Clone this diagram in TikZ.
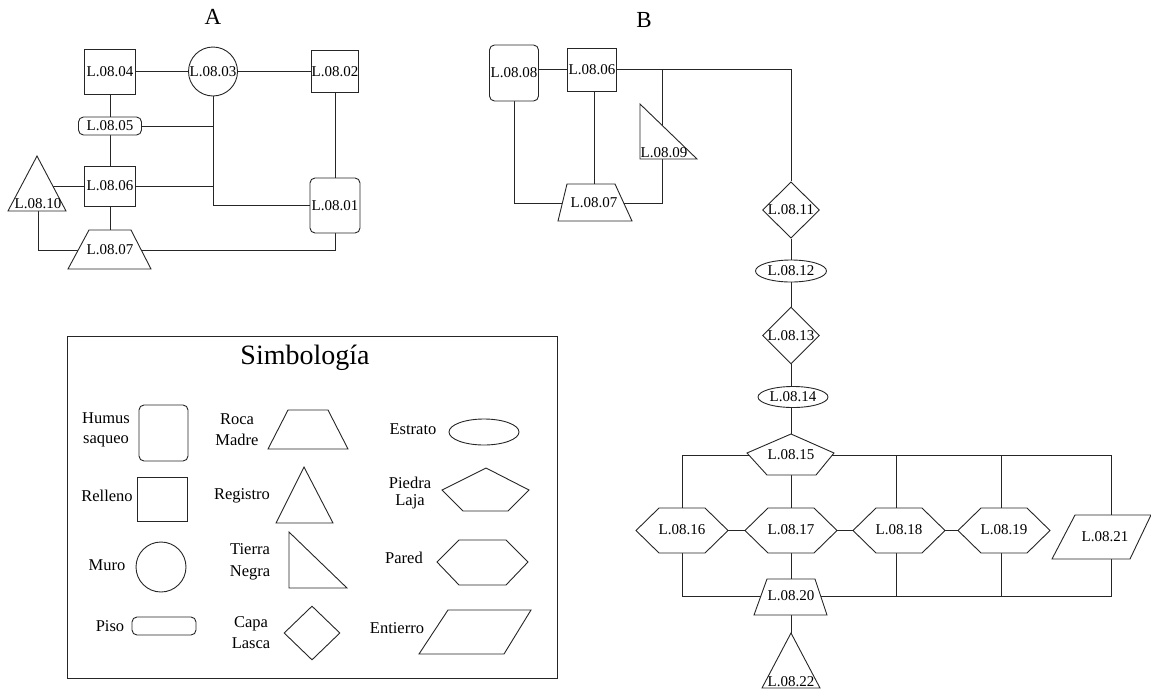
\documentclass[tikz,border=0pt]{standalone}
\usepackage{fontspec}
\setmainfont{Liberation Serif}
\usetikzlibrary{shapes.geometric}
\pgfdeclarelayer{bg}
\pgfdeclarelayer{mid}
\pgfsetlayers{bg,mid,main}
\begin{document}
\begin{tikzpicture}[x=1pt,y=-1pt,
  ln/.style={line width=0.9pt, draw=black!85},
  shp/.style={ln, fill=white},
  lbl/.style={font=\fontsize{15}{15}\selectfont, inner sep=0pt},
  rectn/.style={shp, lbl, rectangle},
  rnd/.style={shp, lbl, rectangle, rounded corners=5pt},
  circ/.style={shp, lbl, circle},
  ell/.style={shp, lbl, ellipse},
  dia/.style={shp, lbl, diamond},
  legt/.style={font=\fontsize{16.5}{20}\selectfont, align=center, inner sep=0pt},
  ttl/.style={font=\fontsize{23}{23}\selectfont, inner sep=0pt},
  hexa/.pic={\draw[shp] (-46,0) -- (-23,-22.5) -- (23,-22.5) -- (46,0) -- (23,22.5) -- (-23,22.5) -- cycle;}]
\useasboundingbox (0,0) rectangle (1151,691);

% ---------- titles
\node[ttl] (tA) at (213,17) {A};
\node[ttl] (tB) at (644,20) {B};

% ---------- diagram A nodes
\node[rectn, minimum width=51pt, minimum height=45pt] (a04) at (110,71.5) {L.08.04};
\node[circ, minimum size=49pt] (a03) at (213,71.5) {L.08.03};
\node[rectn, minimum width=47pt, minimum height=42pt] (a02) at (335,71.5) {L.08.02};
\node[rnd, minimum width=63pt, minimum height=18pt] (a05) at (110,126) {L.08.05};
\node[rectn, minimum width=51pt, minimum height=40pt] (a06) at (110,186) {L.08.06};
\node[rnd, minimum width=50pt, minimum height=55pt] (a01) at (335,205.5) {L.08.01};
\node[lbl] (a10) at (38,204) {L.08.10};
\node[lbl] (a07) at (110,250) {L.08.07};

\begin{pgfonlayer}{mid}
\draw[shp] (37,156) -- (66,211) -- (8,211) -- cycle;
\draw[shp] (89,230) -- (131,230) -- (151,269) -- (68,269) -- cycle;
\end{pgfonlayer}

\coordinate (j5) at (a05 -| a03);
\coordinate (j6) at (a06 -| a03);
\begin{pgfonlayer}{bg}
\draw[ln] (a04) -- (a03);
\draw[ln] (a03) -- (a02);
\draw[ln] (a04) -- (a05);
\draw[ln] (a05) -- (a06);
\draw[ln] (a03) |- (a01);
\draw[ln] (a05) -- (j5);
\draw[ln] (a06) -- (j6);
\draw[ln] (a06) -- (a06 -| a10);
\draw[ln] (a06) -- (a07);
\draw[ln] (a10) |- (a07);
\draw[ln] (a07) -| (a01);
\draw[ln] (a02) -- (a01);
\end{pgfonlayer}

% ---------- diagram B nodes
\node[rnd, minimum width=49pt, minimum height=56pt] (b08) at (514,73) {L.08.08};
\node[rectn, minimum width=49pt, minimum height=43pt] (b06) at (592,69.5) {L.08.06};
\node[lbl] (b07) at (594,203) {L.08.07};
\node[lbl] (b09) at (664,153) {L.08.09};
\node[dia, minimum width=57pt, minimum height=54pt] (b11) at (791,210) {L.08.11};
\node[ell, minimum width=71pt, minimum height=22pt] (b12) at (791,271) {L.08.12};
\node[dia, minimum width=55pt, minimum height=55pt] (b13) at (791,335.5) {L.08.13};
\node[ell, minimum width=70pt, minimum height=21pt] (b14) at (793,397) {L.08.14};
\node[lbl] (b15) at (791,455) {L.08.15};
\node[lbl] (b16) at (682,530) {L.08.16};
\node[lbl] (b17) at (791,530) {L.08.17};
\node[lbl] (b18) at (899,530) {L.08.18};
\node[lbl] (b19) at (1004,530) {L.08.19};
\node[lbl] (b21) at (1105,537) {L.08.21};
\node[lbl] (b20) at (791,596) {L.08.20};
\node[lbl] (b22) at (791,682) {L.08.22};

\begin{pgfonlayer}{mid}
\draw[shp] (567,184) -- (615,184) -- (632,221) -- (558,221) -- cycle;
\draw[shp] (640,104) -- (697,159) -- (640,159) -- cycle;
\draw[shp] (791,434) -- (834,453) -- (816,475) -- (767,475) -- (747,453) -- cycle;
\pic at (682,530.5) {hexa};
\pic at (791,530.5) {hexa};
\pic at (899,530.5) {hexa};
\pic at (1004,530.5) {hexa};
\draw[shp] (1075,515) -- (1151,515) -- (1130,559) -- (1052,559) -- cycle;
\draw[shp] (767,579) -- (815,579) -- (827,615) -- (754,615) -- cycle;
\draw[shp] (791,633) -- (820,688) -- (762,688) -- cycle;
\end{pgfonlayer}

\coordinate (bj) at ([xshift=70pt]b06.center);
\coordinate (b18c) at ([xshift=-3pt]b18.center);
\coordinate (b19c) at ([xshift=-3pt]b19.center);
\coordinate (b21c) at ([xshift=6pt]b21.center);
\begin{pgfonlayer}{bg}
\draw[ln] (b06) -- (b06 -| b08);
\draw[ln] (b06) -| (b11);
\draw[ln] (bj) -- (bj |- b09);
\draw[ln] (bj |- b09) |- (b07);
\draw[ln] (b07) -- (b07 |- b06);
\draw[ln] (b08) |- (b07);
\draw[ln] (b11) -- (b12);
\draw[ln] (b12) -- (b13);
\draw[ln] (b13) -- (b13 |- b14);
\draw[ln] (b13 |- b14) -- (b15);
\draw[ln] (b15) -| (b16);
\draw[ln] (b15) -| (b18c);
\draw[ln] (b15) -| (b19c);
\draw[ln] (b15) -| (b21c);
\draw[ln] (b15) -- (b17);
\draw[ln] (b16) -- (b17);
\draw[ln] (b17) -- (b18);
\draw[ln] (b18) -- (b19);
\draw[ln] (b16) |- (b20);
\draw[ln] (b20) -| (b18c);
\draw[ln] (b20) -| (b19c);
\draw[ln] (b20) -| (b21c);
\draw[ln] (b17) -- (b20);
\draw[ln] (b20) -- (b22);
\end{pgfonlayer}

% ---------- legend
\draw[ln] (67,336) rectangle (557,678);
\node[font=\fontsize{28}{28}\selectfont, inner sep=0pt] (lgt) at (305,358) {Simbología};

\node[legt] (l1) at (106,430) {Humus\\saqueo};
\node[shp, rectangle, rounded corners=5pt, minimum width=49pt, minimum height=56pt] (s1) at (163.5,433) {};
\node[legt] (l2) at (107,496) {Relleno};
\node[shp, rectangle, minimum width=50pt, minimum height=44pt] (s2) at (162,499) {};
\node[legt] (l3) at (107,565) {Muro};
\node[shp, circle, minimum size=50pt] (s3) at (161,567) {};
\node[legt] (l4) at (110,626) {Piso};
\node[shp, rectangle, rounded corners=5pt, minimum width=64pt, minimum height=18pt] (s4) at (164,626) {};

\node[legt, font=\fontsize{16.5}{21}\selectfont] (l5) at (237,430) {Roca\\Madre};
\draw[shp] (288,410) -- (328,410) -- (348,449) -- (268,449) -- cycle;
\node[legt] (l6) at (242,496) {Registro};
\draw[shp] (304,467) -- (333,523) -- (276,523) -- cycle;
\node[legt, font=\fontsize{16.5}{22}\selectfont] (l7) at (250,562) {Tierra\\Negra};
\draw[shp] (289,532) -- (289,588) -- (347,588) -- cycle;
\node[legt, font=\fontsize{16.5}{21}\selectfont] (l8) at (251,633) {Capa\\Lasca};
\node[shp, diamond, minimum width=56pt, minimum height=54pt, inner sep=0pt] (s8) at (312,633) {};

\node[legt] (l9) at (413,429) {Estrato};
\node[shp, ellipse, minimum width=70pt, minimum height=26pt, inner sep=0pt] (s9) at (484,432) {};
\node[legt, font=\fontsize{16.5}{17}\selectfont] (l10) at (410,493) {Piedra\\Laja};
\draw[shp] (486,468) -- (529,490) -- (508,511) -- (463,511) -- (442,490) -- cycle;
\node[legt] (l11) at (404,558) {Pared};
\draw[shp] (437,562) -- (459,540) -- (506,540) -- (528,562) -- (506,585) -- (459,585) -- cycle;
\node[legt] (l12) at (397,628) {Entierro};
\draw[shp] (448,610) -- (531,610) -- (504,654) -- (419,654) -- cycle;
\end{tikzpicture}
\end{document}
